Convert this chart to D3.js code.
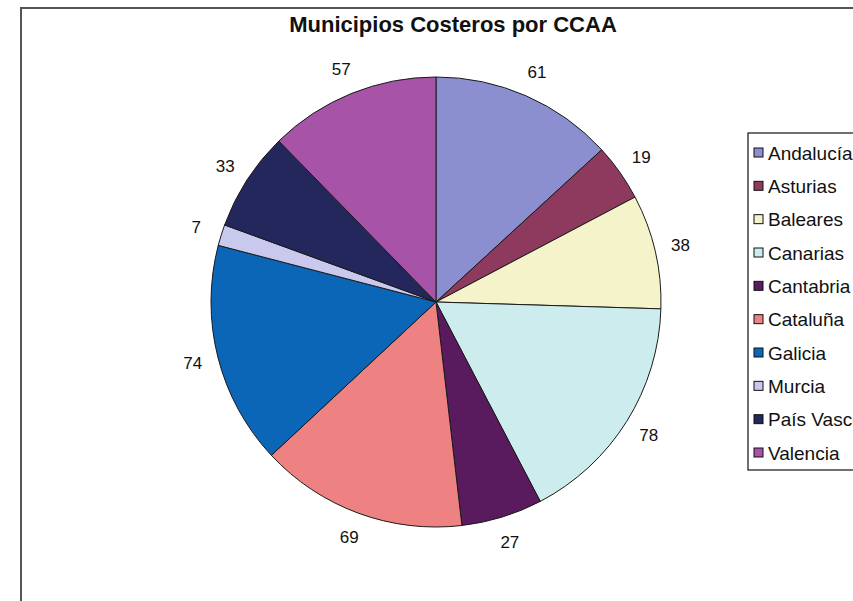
<!DOCTYPE html>
<head>
    <meta charset="utf-8">
    <title>Municipios Costeros por CCAA</title>
    <style>
        body { margin: 0; background: #fff; }
        text { font-family: "Liberation Sans", Arial, sans-serif; fill: #111; }
    </style>
</head>
<body>
    <svg width="853" height="601"></svg>
    <script src="https://d3js.org/d3.v7.min.js"></script>
    <script>
        // data
        var regiones = ["Andalucía", "Asturias", "Baleares", "Canarias", "Cantabria",
                        "Cataluña", "Galicia", "Murcia", "País Vasco", "Valencia"];
        var municipios = [61, 19, 38, 78, 27, 69, 74, 7, 33, 57];
        var colores = ["#8b8fcf", "#8e3a5f", "#f4f3c9", "#cdeced", "#5a1b5e",
                       "#ee8282", "#0b66b8", "#c9c9ee", "#23275c", "#a653a8"];

        var svg = d3.select("svg"),
            width = +svg.attr("width"),
            height = +svg.attr("height");

        // chart area frame (only top and left edges are visible)
        svg.append("rect")
            .attr("x", 21).attr("y", 8)
            .attr("width", width + 20).attr("height", height + 20)
            .attr("fill", "none")
            .attr("stroke", "#555")
            .attr("stroke-width", 2);

        svg.append("text")
            .attr("x", 453).attr("y", 32)
            .attr("text-anchor", "middle")
            .style("font-size", "22px")
            .style("font-weight", "bold")
            .text("Municipios Costeros por CCAA");

        var cx = 436, cy = 302, r = 225;

        var data = regiones.map(function (d, i) { return { name: d, value: municipios[i], color: colores[i] }; });

        var pie = d3.pie()
            .sort(null)
            .value(function (d) { return d.value; });

        var arc = d3.arc().innerRadius(0).outerRadius(r);
        var labelArc = d3.arc().innerRadius(251).outerRadius(251);

        var g = svg.append("g").attr("transform", "translate(" + cx + "," + cy + ")");
        var arcs = pie(data);

        g.selectAll(".slice")
            .data(arcs)
            .enter().append("path")
            .attr("class", "slice")
            .attr("d", arc)
            .attr("fill", function (d) { return d.data.color; })
            .attr("stroke", "#1a1a1a")
            .attr("stroke-width", 1);

        g.selectAll(".label")
            .data(arcs)
            .enter().append("text")
            .attr("class", "label")
            .attr("transform", function (d) { return "translate(" + labelArc.centroid(d) + ")"; })
            .attr("dy", "0.35em")
            .attr("text-anchor", "middle")
            .style("font-size", "17px")
            .text(function (d) { return d.data.value; });

        // legend
        var legend = svg.append("g").attr("transform", "translate(748,133)");
        legend.append("rect")
            .attr("width", 130).attr("height", 337)
            .attr("fill", "#fff")
            .attr("stroke", "#111")
            .attr("stroke-width", 1.2);

        var y = d3.scalePoint().domain(regiones).range([20, 320]);

        var item = legend.selectAll(".item")
            .data(data)
            .enter().append("g")
            .attr("class", "item")
            .attr("transform", function (d) { return "translate(0," + y(d.name) + ")"; });

        item.append("rect")
            .attr("x", 6).attr("y", -5)
            .attr("width", 9).attr("height", 9)
            .attr("fill", function (d) { return d.color; })
            .attr("stroke", "#111");

        item.append("text")
            .attr("x", 20).attr("dy", "0.35em")
            .style("font-size", "19px")
            .text(function (d) { return d.name; });
    </script>
</body>
